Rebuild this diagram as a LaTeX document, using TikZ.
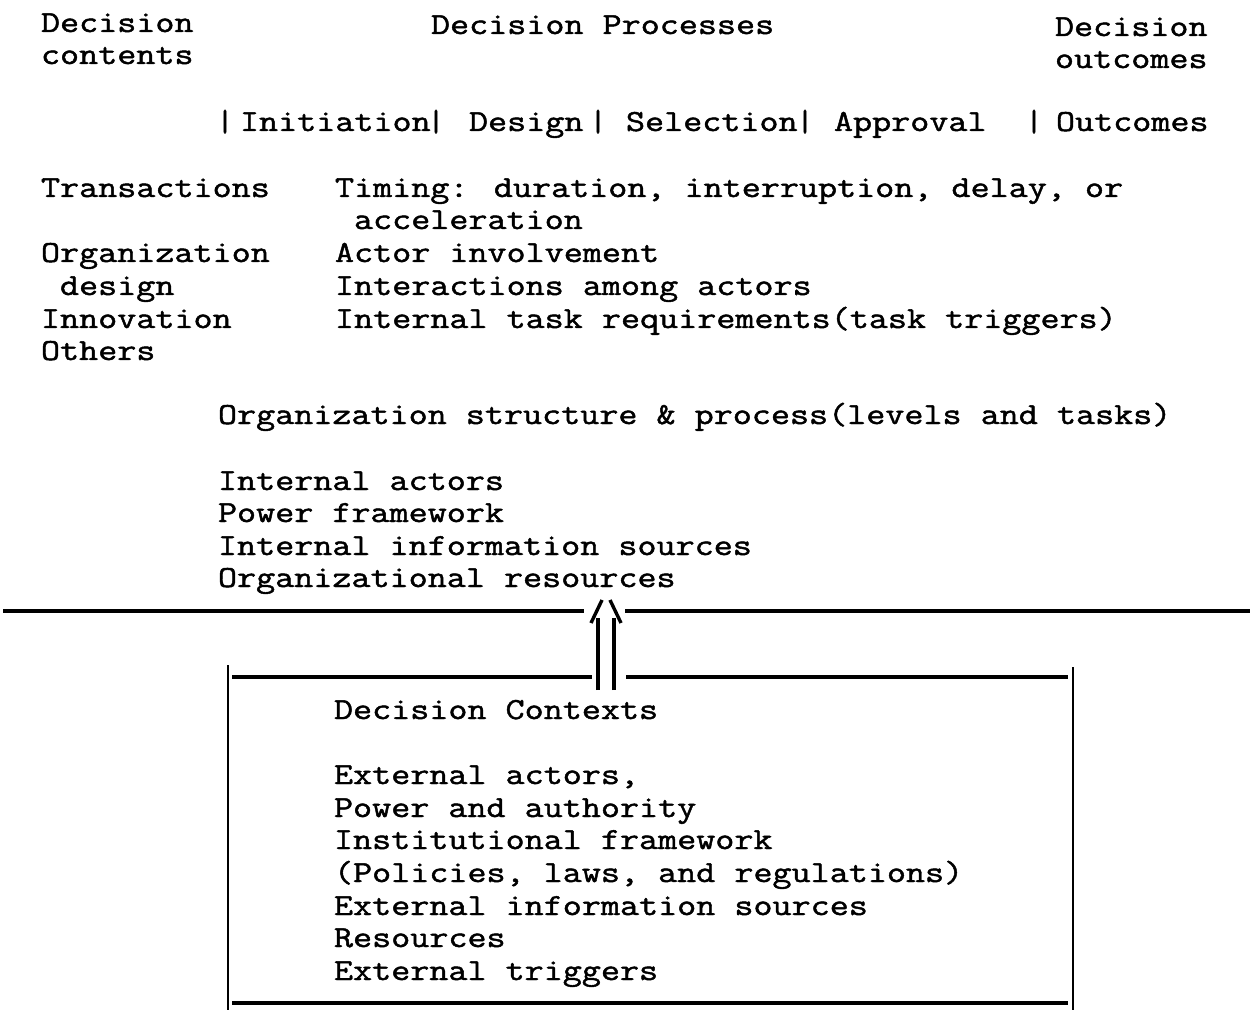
\documentclass[tikz,border=0pt]{standalone}
\usepackage{fontspec}
% typewriter face, widened and thickened to the look of a Courier printout
\newfontfamily\tw[FakeStretch=1.21,FakeBold=1.5]{Latin Modern Mono}
\begin{document}
\begin{tikzpicture}[x=0.5pt,y=-0.5pt,
  txt/.style={anchor=base west, inner sep=0pt, outer sep=0pt,
              font=\tw\fontsize{15.3}{16.35}\selectfont},
  bar/.style={txt, anchor=base},
  rule/.style={line width=2pt},
  boxv/.style={line width=1.4pt},
  boxh/.style={line width=1.9pt},
  arrowline/.style={line width=1.7pt}]
\useasboundingbox[fill=white] (0,0) rectangle (1252,1010);

% column headings
\node[txt] (dc1) at (41,32) {Decision};
\node[txt] (dc2) at (41,64) {contents};
\node[txt] (dp)  at (431,34) {Decision Processes};
\node[txt] (do1) at (1055,36) {Decision};
\node[txt] (do2) at (1055,68) {outcomes};

% process stages
\node[bar] (b1) at (225,131) {|};
\node[txt] (s1) at (240,131) {Initiation};
\node[bar] (b2) at (436,131) {|};
\node[txt] (s2) at (469,131) {Design};
\node[bar] (b3) at (598,131) {|};
\node[txt] (s3) at (626,131) {Selection};
\node[bar] (b4) at (805,131) {|};
\node[txt] (s4) at (834,131) {Approval};
\node[bar] (b5) at (1034,131) {|};
\node[txt] (s5) at (1056,131) {Outcomes};

% decision contents
\node[txt] (c1) at (41,197) {Transactions};
\node[txt] (c2) at (41,262) {Organization};
\node[txt] (c3) at (60,295) {design};
\node[txt] (c4) at (41,328) {Innovation};
\node[txt] (c5) at (41,360) {Others};

% process attributes
\node[txt] (p1) at (335,197) {Timing: duration, interruption, delay, or};
\node[txt] (p2) at (354,229) {acceleration};
\node[txt] (p3) at (335,262) {Actor involvement};
\node[txt] (p4) at (335,295) {Interactions among actors};
\node[txt] (p5) at (335,328) {Internal task requirements(task triggers)};

% organizational setting
\node[txt] (o0) at (218,424) {Organization structure \& process(levels and tasks)};
\node[txt] (o1) at (218,490) {Internal actors};
\node[txt] (o2) at (218,522) {Power framework};
\node[txt] (o3) at (218,555) {Internal information sources};
\node[txt] (o4) at (218,587) {Organizational resources};

% boundary of the organization, broken where the arrow enters
\coordinate (hl1) at (3,611);
\coordinate (hl2) at (584,611);
\coordinate (hr1) at (625,611);
\coordinate (hr2) at (1250,611);
\draw[rule] (hl1) -- (hl2);
\draw[rule] (hr1) -- (hr2);

% decision contexts box
\coordinate (bl) at (228,665);
\coordinate (br) at (1073,667);
\draw[boxv] (bl) -- (228,1010);
\draw[boxv] (br) -- (1073,1010);
\draw[boxh] (232,677) -- (592,677);
\draw[boxh] (626,677) -- (1068,677);
\draw[boxh] (232,1003) -- (1068,1003);

\node[txt] (x0) at (334,719) {Decision Contexts};
\node[txt] (x1) at (334,784) {External actors,};
\node[txt] (x2) at (334,817) {Power and authority};
\node[txt] (x3) at (334,849) {Institutional framework};
\node[txt] (x4) at (334,882) {(Policies, laws, and regulations)};
\node[txt] (x5) at (334,915) {External information sources};
\node[txt] (x6) at (334,947) {Resources};
\node[txt] (x7) at (334,980) {External triggers};

% open double arrow from the context box into the organization
\coordinate (al0) at (598,690);
\coordinate (al1) at (598,618);
\coordinate (ar0) at (614,690);
\coordinate (ar1) at (614,618);
\draw[arrowline] (al0) -- (al1);
\draw[arrowline] (ar0) -- (ar1);
\draw[arrowline] (591,623) -- (602,600);
\draw[arrowline] (610,600) -- (621,623);
\end{tikzpicture}
\end{document}
